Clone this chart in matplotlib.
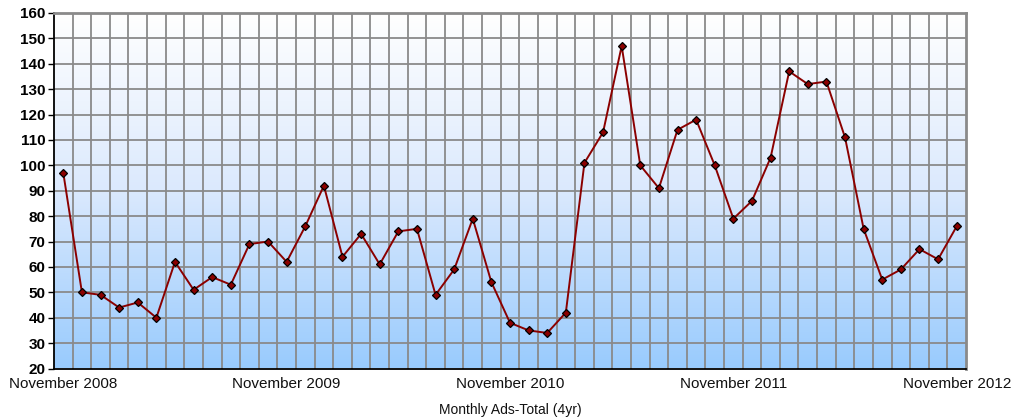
import numpy as np
import matplotlib
matplotlib.use("Agg")
import matplotlib.pyplot as plt
from matplotlib.colors import LinearSegmentedColormap

months = ["Nov 2008", "Dec 2008", "Jan 2009", "Feb 2009", "Mar 2009", "Apr 2009", "May 2009",
          "Jun 2009", "Jul 2009", "Aug 2009", "Sep 2009", "Oct 2009", "Nov 2009",
          "Dec 2009", "Jan 2010", "Feb 2010", "Mar 2010", "Apr 2010", "May 2010",
          "Jun 2010", "Jul 2010", "Aug 2010", "Sep 2010", "Oct 2010", "Nov 2010",
          "Dec 2010", "Jan 2011", "Feb 2011", "Mar 2011", "Apr 2011", "May 2011",
          "Jun 2011", "Jul 2011", "Aug 2011", "Sep 2011", "Oct 2011", "Nov 2011",
          "Dec 2011", "Jan 2012", "Feb 2012", "Mar 2012", "Apr 2012", "May 2012",
          "Jun 2012", "Jul 2012", "Aug 2012", "Sep 2012", "Oct 2012", "Nov 2012"]
ads = [97, 50, 49, 44, 46, 40, 62, 51, 56, 53, 69, 70, 62,
       76, 92, 64, 73, 61, 74, 75, 49, 59, 79, 54, 38,
       35, 34, 42, 101, 113, 147, 100, 91, 114, 118, 100, 79,
       86, 103, 137, 132, 133, 111, 75, 55, 59, 67, 63, 76]
label_months = ["Nov 2008", "Nov 2009", "Nov 2010", "Nov 2011", "Nov 2012"]
label_text = ["November 2008", "November 2009", "November 2010", "November 2011", "November 2012"]

plt.rcParams['font.family'] = ['Liberation Sans', 'DejaVu Sans']

fig = plt.figure(figsize=(10.11, 4.2), dpi=100)
ax = fig.add_axes([54/1011, 1-368.5/420, 912/1011, 355.5/420])

x = np.arange(len(ads))
ax.set_xlim(-0.5, len(ads)-0.5)
ax.set_ylim(20, 160)

# background gradient: white at top, light blue at bottom
cmap = LinearSegmentedColormap.from_list("bg", ["#ffffff", "#dbe9fd", "#99cbfd"])
grad = np.linspace(0, 1, 256).reshape(-1, 1)
ax.imshow(grad, cmap=cmap, aspect="auto", extent=(-0.5, len(ads)-0.5, 20, 160),
          origin="upper", zorder=0, vmin=0, vmax=1)

for yv in range(30, 160, 10):
    ax.axhline(yv, color="#8a8a8a", lw=1.3, zorder=1)
for xv in np.arange(0.5, len(ads)-0.5, 1):
    ax.axvline(xv, color="#8a8a8a", lw=1.3, zorder=1)

ax.plot(x, ads, color="#8b0000", lw=1.4, marker="D", markersize=4.5,
        markerfacecolor="#8b0000", markeredgecolor="black", markeredgewidth=0.9, zorder=3)

ax.set_yticks(range(20, 161, 10))
ax.set_yticklabels([str(v) for v in range(20, 161, 10)], fontsize=11, fontweight="bold")
ax.tick_params(axis="y", length=4, width=1, color="black", pad=2)

ax.set_xticks([months.index(m) for m in label_months])
ax.set_xticklabels(label_text, fontsize=11, color="#111111")
ax.tick_params(axis="x", length=0, pad=6)

for s in ["left", "bottom"]:
    ax.spines[s].set_color("black")
    ax.spines[s].set_linewidth(1.3)
for s in ["top", "right"]:
    ax.spines[s].set_color("#8a8a8a")
    ax.spines[s].set_linewidth(2)

fig.text(510/1011, 1-410/420, "Monthly Ads-Total (4yr)", ha="center", va="center", fontsize=10, color="#111111")

fig.savefig("out.png", dpi=100)
